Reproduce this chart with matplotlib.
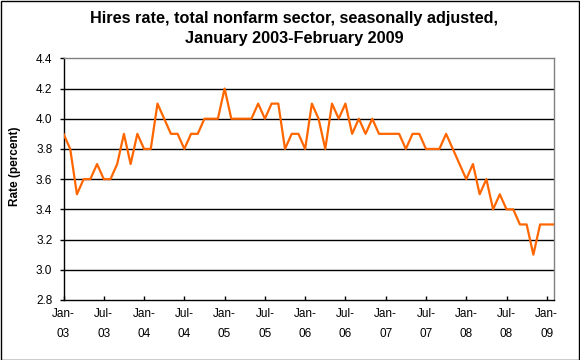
#! /usr/bin/env python3
import matplotlib
matplotlib.use('Agg')
import matplotlib.pyplot as plt
from matplotlib.patches import Rectangle

# Monthly hires rate, Jan 2003 - Feb 2009 (percent)
rates = [3.9, 3.8, 3.5, 3.6, 3.6, 3.7, 3.6, 3.6, 3.7, 3.9, 3.7, 3.9,
         3.8, 3.8, 4.1, 4.0, 3.9, 3.9, 3.8, 3.9, 3.9, 4.0, 4.0, 4.0,
         4.2, 4.0, 4.0, 4.0, 4.0, 4.1, 4.0, 4.1, 4.1, 3.8, 3.9, 3.9,
         3.8, 4.1, 4.0, 3.8, 4.1, 4.0, 4.1, 3.9, 4.0, 3.9, 4.0, 3.9,
         3.9, 3.9, 3.9, 3.8, 3.9, 3.9, 3.8, 3.8, 3.8, 3.9, 3.8, 3.7,
         3.6, 3.7, 3.5, 3.6, 3.4, 3.5, 3.4, 3.4, 3.3, 3.3, 3.1, 3.3,
         3.3, 3.3]
months = list(range(len(rates)))
tick_labels = ['Jan-\n03', 'Jul-\n03', 'Jan-\n04', 'Jul-\n04', 'Jan-\n05',
               'Jul-\n05', 'Jan-\n06', 'Jul-\n06', 'Jan-\n07', 'Jul-\n07',
               'Jan-\n08', 'Jul-\n08', 'Jan-\n09']
y_ticks = [2.8, 3.0, 3.2, 3.4, 3.6, 3.8, 4.0, 4.2, 4.4]

plt.rcParams['font.family'] = ['Liberation Sans', 'DejaVu Sans']

fig = plt.figure(figsize=(5.8, 3.6), dpi=100)
ax = fig.add_axes([63.5 / 580, 60 / 360, 490 / 580, 241.7 / 360])

for y in y_ticks[1:-1]:
    ax.axhline(y, color='black', linewidth=1.0, zorder=1)

ax.plot(months, rates, color='#FF6600', linewidth=1.6, zorder=3)

ax.set_xlim(0, len(rates) - 1)
ax.set_ylim(2.8, 4.4)
ax.set_yticks(y_ticks)
ax.set_yticklabels(['%.1f' % v for v in y_ticks])
ax.set_xticks(months[::6])
ax.set_xticklabels(tick_labels, linespacing=1.85)

ax.tick_params(axis='x', direction='in', length=3, width=1, labelsize=8.5, pad=6)
ax.tick_params(axis='y', direction='out', length=3, width=1, labelsize=8.5, pad=5)

for side in ['left', 'bottom']:
    ax.spines[side].set_color('black')
    ax.spines[side].set_linewidth(1.0)
for side in ['top', 'right']:
    ax.spines[side].set_color('#808080')
    ax.spines[side].set_linewidth(1.0)

fig.text(294 / 580, 1 - 11 / 360,
         'Hires rate, total nonfarm sector, seasonally adjusted,\nJanuary 2003-February 2009',
         ha='center', va='top', fontsize=11.7, fontweight='bold', linespacing=1.45)
fig.text(15 / 580, 1 - 166 / 360, 'Rate (percent)', rotation=90,
         ha='center', va='center', fontsize=8.5, fontweight='bold')

fig.patches.append(Rectangle((0.5 / 580, 0.5 / 360), 578.5 / 580, 358.5 / 360,
                             transform=fig.transFigure, fill=False,
                             edgecolor='black', linewidth=1.0))

plt.savefig('out.png', dpi=100)
